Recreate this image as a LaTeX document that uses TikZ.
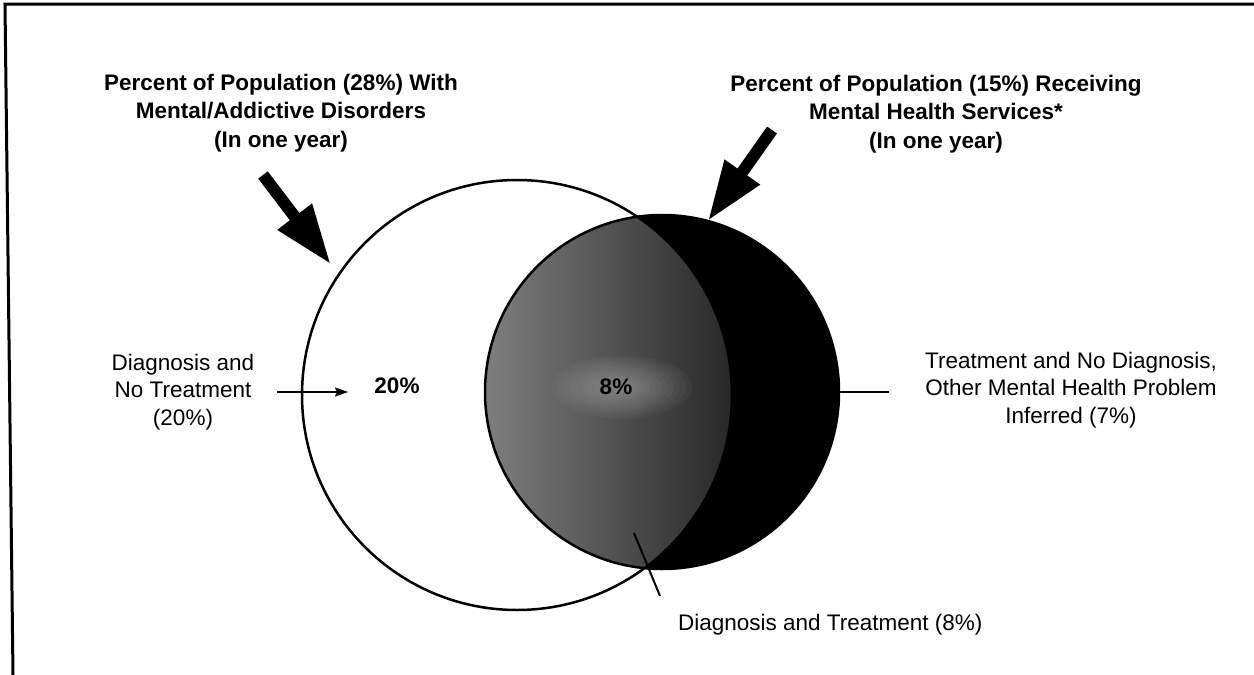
\documentclass[tikz,border=0pt]{standalone}
\usepackage{fontspec}
\setmainfont{Liberation Sans}
\usetikzlibrary{arrows.meta,calc}
\begin{document}
\begin{tikzpicture}[x=1pt,y=-1pt,
  titletext/.style={font=\fontsize{22.5pt}{28.5pt}\selectfont\bfseries, align=center, inner sep=0pt},
  labtext/.style={font=\fontsize{22.5pt}{27.5pt}\selectfont, align=center, inner sep=0pt},
  pcttext/.style={font=\fontsize{22.5pt}{27pt}\selectfont\bfseries, inner sep=0pt},
  bigarrow/.style={line width=12pt, -{Triangle[length=60pt,width=40pt]}},
  smallarrow/.style={line width=2pt, -{Stealth[length=13pt,width=9pt,inset=2pt]}},
  leader/.style={line width=2pt},
  ring/.style={circle, inner sep=0pt, outer sep=0pt},
]
\useasboundingbox (0,0) rectangle (1254,675);
% frame
\draw[line width=3pt] (1254,4) -- (5,4) -- (13,675);

% circles (geometry)
\node[ring, minimum size=430pt] (L) at (517,395) {};
\node[ring, minimum size=354pt] (R) at (662,392) {};

% dark crescent
\fill[black] (R.center) circle (177);
% grey lens (intersection of both circles)
\begin{scope}
  \clip (L.center) circle (215);
  \clip (R.center) circle (177);
  \shade[left color=black!50, right color=black!85] (483,210) rectangle (735,575);
  \foreach \r in {70,64,...,10}{
    \fill[white, opacity=0.03] (622,387) ellipse [x radius=\r, y radius=0.45*\r];
  }
\end{scope}
% outlines
\draw[line width=2.5pt] (L.center) circle (215);
\draw[line width=2.5pt] (R.center) circle (177);

% titles
\node[titletext] (t1) at (281,113) {Percent of Population (28\%) With\\Mental/Addictive Disorders\\(In one year)};
\node[titletext] (t2) at (936,114) {Percent of Population (15\%) Receiving\\Mental Health Services*\\(In one year)};

% big arrows
\coordinate (s1) at (263,175);
\coordinate (s2) at (772,130);
\draw[bigarrow, shorten >=13pt] (s1) -- (L.146);
\draw[bigarrow] (s2) -- (R.75);

% percentages
\node[pcttext] (p20) at (397,386) {20\%};
\node[pcttext] (p8) at (616,387) {8\%};

% left label
\node[labtext] (dnt) at (183,392) {Diagnosis and\\No Treatment\\(20\%)};
\coordinate (a20) at (348,392);
\draw[smallarrow, shorten <=23pt] (dnt.east) -- (a20);

% right label
\node[labtext] (tnd) at (1071,390) {Treatment and No Diagnosis,\\Other Mental Health Problem\\Inferred (7\%)};
\draw[leader, shorten >=36pt] (R.east) -- (tnd.west |- R.east);

% bottom label
\node[labtext, anchor=west] (dt) at (678,625) {Diagnosis and Treatment (8\%)};
\coordinate (din) at (634,533);
\coordinate (dout) at (660,596);
\draw[leader] (din) -- (dout);
\end{tikzpicture}
\end{document}
